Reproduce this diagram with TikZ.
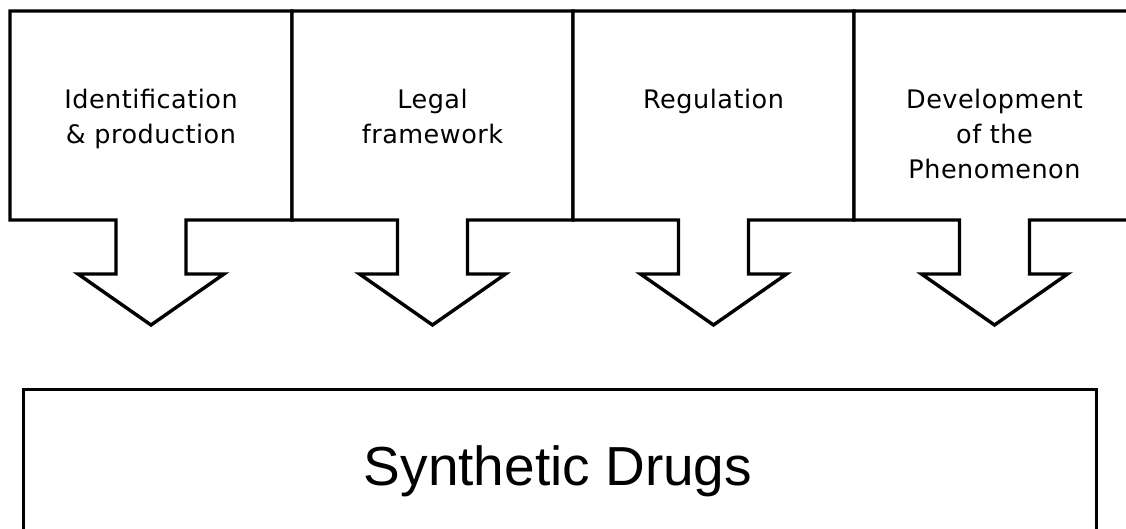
\documentclass[tikz,border=0pt]{standalone}
\usepackage{fontspec}
\setmainfont{Liberation Sans}
\newfontfamily\smallfont[LetterSpace=2]{DejaVu Sans}
\begin{document}
\begin{tikzpicture}[x=1pt,y=-1pt,
  outline/.style={draw=black,line width=3.4pt,line join=miter,fill=white},
  label/.style={anchor=north,inner sep=0pt,align=center,font=\smallfont\fontsize{25.5}{35}\selectfont},
  bigbox/.style={draw=black,line width=3.4pt,fill=white,rectangle,inner sep=0pt,minimum width=1073pt,minimum height=200pt,anchor=north west}]
\useasboundingbox (0,0) rectangle (1126,529);
\clip (0,0) rectangle (1126,529);
\fill[white] (0,0) rectangle (1126,529);
% boxes with arrows
\foreach \xa/\xb in {10/292,292/573,573/854,854/1135}{
  \pgfmathsetmacro{\cx}{(\xa+\xb)/2}
  \draw[outline] (\xa,11) -- (\xb,11) -- (\xb,220) -- (\cx+35,220) -- (\cx+35,274)
    -- (\cx+73,274) -- (\cx,325) -- (\cx-73,274) -- (\cx-35,274) -- (\cx-35,220)
    -- (\xa,220) -- cycle;
}
\node[label] (t1) at (151,89) {Identification\\\& production};
\node[label] (t2) at (432.5,89) {Legal\\framework};
\node[label] (t3) at (713.5,89) {Regulation};
\node[label] (t4) at (994.5,89) {Development\\of the\\Phenomenon};
\node[bigbox] (sd) at (22,388) {};
\node[anchor=base,inner sep=0pt,font=\fontsize{55}{60}\selectfont] (sdt) at (558,485) {Synthetic Drugs};
\end{tikzpicture}
\end{document}
